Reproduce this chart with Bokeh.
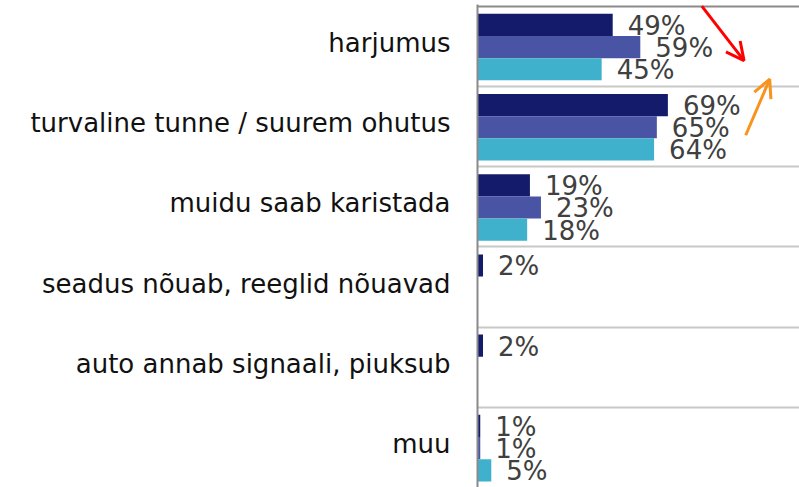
from bokeh.plotting import figure
from bokeh.models import Range1d, FixedTicker, ColumnDataSource, Grid, Arrow, OpenHead
from bokeh.core.properties import value
from bokeh.embed import file_html
from bokeh.resources import INLINE

categories = [
    "harjumus",
    "turvaline tunne / suurem ohutus",
    "muidu saab karistada",
    "seadus nõuab, reeglid nõuavad",
    "auto annab signaali, piuksub",
    "muu",
]
series1 = [49, 69, 19, 2, 2, 1]
series2 = [59, 65, 23, None, None, 1]
series3 = [45, 64, 18, None, None, 5]
colors = ["#141B6B", "#4954A5", "#3FB1CC"]

# annotation arrows (data coords: percent, category index)
red_arrow = dict(x_start=81.3, y_start=0.0, x_end=96.6, y_end=0.68)
orange_arrow = dict(x_start=97.2, y_start=1.61, x_end=105.9, y_end=0.91)

FONT = "DejaVu Sans"
FS = "26px"

p = figure(
    width=799, height=487,
    x_range=Range1d(0, 116.7),
    y_range=Range1d(6.0, -0.02),
    output_backend="svg", toolbar_location=None,
    x_axis_location=None,
    min_border_left=477, min_border_right=0, min_border_top=4, min_border_bottom=0,
)
p.outline_line_color = None
p.background_fill_color = "white"

centers = [i + 0.51 for i in range(len(categories))]
label_pos = [i + 0.46 for i in range(len(categories))]
p.yaxis.ticker = FixedTicker(ticks=label_pos)
p.yaxis.major_label_overrides = {c: lab for c, lab in zip(label_pos, categories)}
p.yaxis.major_tick_line_color = None
p.yaxis.minor_tick_line_color = None
p.yaxis.major_tick_in = 0
p.yaxis.major_tick_out = 0
p.yaxis.axis_line_color = "#8A8A8A"
p.yaxis.axis_line_width = 2
p.yaxis.major_label_standoff = 27
p.yaxis.major_label_text_font = FONT
p.yaxis.major_label_text_font_size = FS
p.yaxis.major_label_text_color = "#111111"

p.xgrid.visible = False
p.ygrid.ticker = FixedTicker(ticks=[1, 2, 3, 4, 5])
p.ygrid.grid_line_color = "#C8C8C8"
p.ygrid.grid_line_width = 2

top_grid = Grid(dimension=1, ticker=FixedTicker(ticks=[0]), grid_line_color="#8A8A8A", grid_line_width=2)
p.add_layout(top_grid)

bh = 0.277
offsets = [-bh, 0.0, bh]
for vals, col, off in zip([series1, series2, series3], colors, offsets):
    ys, xs, labs = [], [], []
    for c, v in zip(centers, vals):
        if v is None:
            continue
        ys.append(c + off)
        xs.append(v)
        labs.append(f"{v}%")
    src = ColumnDataSource(dict(y=ys, right=xs, lab=labs))
    p.hbar(y="y", right="right", left=0, height=bh, source=src,
           fill_color=col, line_color=None)
    p.text(x="right", y="y", text="lab", source=src, x_offset=15, y_offset=1,
           text_font=value(FONT), text_font_size=FS, text_color="#404040",
           text_baseline="middle", text_align="left")

p.add_layout(Arrow(end=OpenHead(line_color="#FF0000", line_width=3, size=18),
                   line_color="#FF0000", line_width=3, **red_arrow))
p.add_layout(Arrow(end=OpenHead(line_color="#F7941D", line_width=3, size=18),
                   line_color="#F7941D", line_width=3, **orange_arrow))

open("out.html", "w").write(file_html(p, INLINE))
